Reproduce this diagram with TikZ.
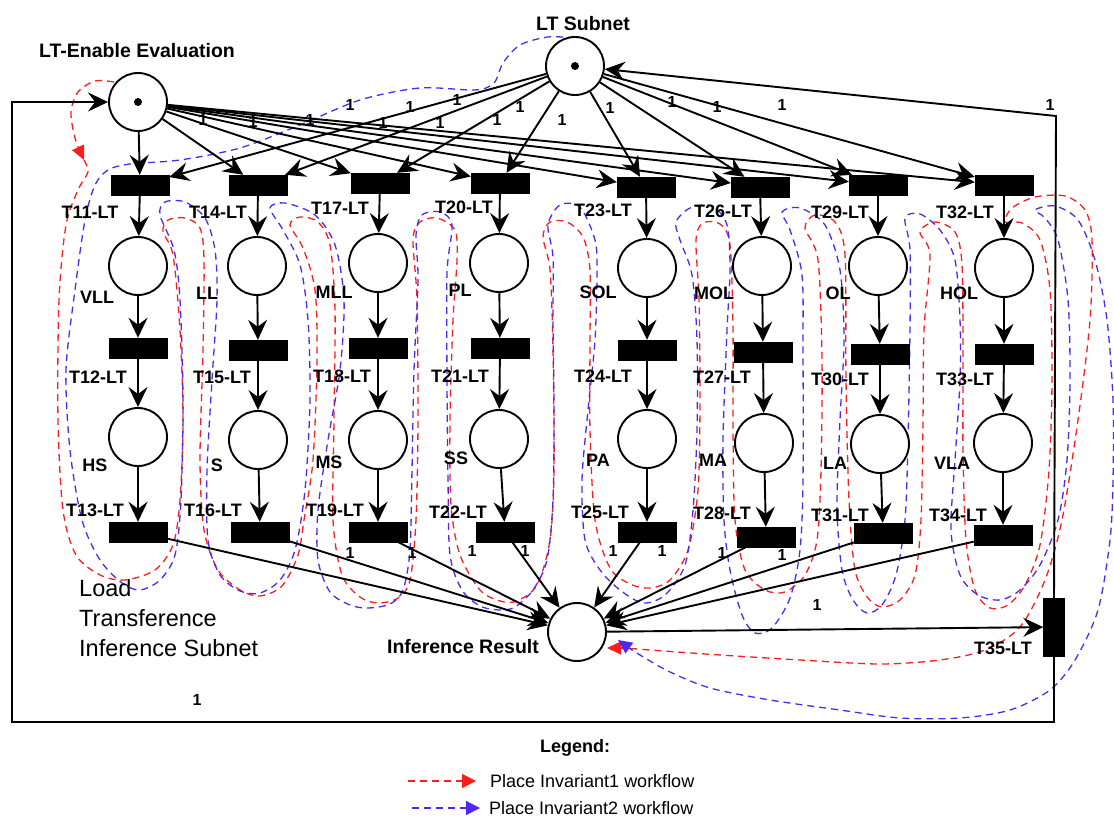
\documentclass[tikz,border=0pt]{standalone}
\usepackage{fontspec}
\setmainfont{Liberation Sans}
\usetikzlibrary{arrows.meta}
\definecolor{flowred}{RGB}{250,30,30}
\definecolor{flowblue}{RGB}{80,40,240}
\begin{document}
\begin{tikzpicture}[x=1pt,y=-1pt,
  place/.style={circle,draw,line width=1.9pt,fill=white,minimum size=58pt,inner sep=0pt},
  trans/.style={rectangle,fill=black,draw=black,minimum width=58pt,minimum height=20pt,inner sep=0pt},
  vtrans/.style={rectangle,fill=black,draw=black,minimum width=21pt,minimum height=58pt,inner sep=0pt},
  arc/.style={line width=1.9pt,-{Stealth[length=20pt,width=19pt,inset=7pt]}},
  lbl/.style={font=\fontsize{18}{20}\selectfont\bfseries,inner sep=0pt},
  ttl/.style={font=\fontsize{19.5}{22}\selectfont\bfseries,inner sep=0pt},
  wt/.style={font=\fontsize{16}{18}\selectfont\bfseries,inner sep=0pt},
  flow/.style={line width=1.3pt,dash pattern=on 7pt off 5pt},
  redflow/.style={flow,color=flowred},
  blueflow/.style={flow,color=flowblue},
  flowtip/.style={-{Triangle[length=14pt,width=13pt]}},
  token/.style={circle,fill=black,minimum size=8pt,inner sep=0pt}
]
\useasboundingbox (0,0) rectangle (1114,821);

% ---------- place invariant workflows ----------
\draw[redflow,flowtip] plot[smooth] coordinates {(114,82) (95,81) (78,92) (71,112) (75,138) (84,160)};
\draw[redflow] plot[smooth] coordinates {(84,160) (88,172) (78,190) (66,225) (59,300) (58,420) (63,510) (76,555) (100,575) (125,580) (155,570) (173,545) (180,500) (183,420) (180,330) (173,255) (163,232) (168,220) (185,218) (200,228) (204,260) (203,350) (200,460) (204,530) (218,570) (240,590) (260,596) (282,586) (298,555) (304,520) (313,460) (317,360) (315,290) (303,248) (290,225) (300,217) (318,222) (330,245) (335,310) (334,420) (333,520) (342,575) (360,597) (378,603) (398,598) (410,580) (416,520) (418,420) (417,300) (413,240) (420,222) (437,218) (455,230) (457,260) (453,320) (450,420) (451,505) (460,555) (480,590) (500,601) (517,601) (537,585) (550,540) (554,470) (553,350) (550,270) (543,237) (550,222) (567,222) (583,237) (590,270) (590,340) (590,430) (595,520) (610,568) (630,584) (650,588) (670,580) (688,550) (698,490) (700,400) (699,300) (696,240) (703,223) (720,224) (730,245) (733,330) (733,430) (735,520) (745,570) (765,590) (785,592) (805,575) (817,540) (821,470) (822,360) (818,260) (805,228) (815,215) (835,222) (845,255) (846,380) (849,500) (855,570) (868,598) (882,607) (900,600) (915,575) (921,520) (923,420) (924,330) (930,255) (920,232) (935,222) (955,232) (962,265) (963,360) (963,450) (966,540) (975,590) (990,608) (1008,605) (1025,585) (1040,545) (1049,470) (1052,380) (1050,290) (1040,240) (1022,223) (1005,222) (1012,208) (1035,197) (1065,196) (1085,210) (1092,240) (1090,320) (1078,420) (1062,520) (1045,580) (1020,627) (985,650) (940,660) (880,664) (800,660) (720,655) (650,650) (625,648)};
\draw[redflow,flowtip] (625,648) -- (607,648);

\draw[blueflow] plot[smooth] coordinates {(575,38) (548,37) (520,45) (503,63) (494,83) (475,90) (420,88) (360,100) (300,125) (240,148) (180,160) (130,164) (108,170) (95,185) (85,220) (75,290) (66,370) (70,450) (82,520) (100,560) (122,583) (140,590) (160,580) (175,555) (181,500) (183,400) (180,300) (174,250) (160,215) (165,202) (185,202) (205,218) (215,250) (217,300) (212,380) (207,470) (208,540) (220,575) (240,591) (260,593) (280,580) (295,550) (305,490) (310,400) (308,320) (300,265) (283,230) (270,208) (285,203) (315,215) (335,245) (344,300) (340,370) (328,440) (318,510) (318,560) (330,592) (350,605) (368,608) (390,604) (403,590) (410,550) (412,470) (414,370) (418,280) (416,235) (422,215) (440,212) (452,225) (447,273) (447,380) (448,480) (450,555) (462,590) (480,606) (500,610) (515,607) (533,590) (547,560) (553,500) (554,410) (553,320) (553,257) (548,225) (560,205) (580,207) (595,240) (597,273) (595,340) (588,410) (582,480) (585,540) (600,570) (620,590) (643,603) (665,595) (685,565) (693,510) (697,430) (697,340) (692,275) (680,240) (676,222) (690,208) (712,206) (727,225) (730,270) (727,330) (723,440) (724,520) (730,570) (742,615) (755,633) (772,628) (790,598) (800,550) (803,480) (803,350) (802,275) (790,230) (782,212) (800,208) (825,225) (840,270) (844,340) (840,420) (837,507) (842,570) (853,600) (867,613) (882,605) (896,575) (905,520) (908,440) (910,330) (910,250) (905,218) (920,214) (940,230) (955,260) (960,320) (960,380) (955,460) (951,530) (960,575) (978,595) (1000,600) (1020,590) (1040,565) (1058,520) (1067,460) (1070,380) (1068,300) (1058,240) (1045,218) (1035,210) (1055,206) (1078,220) (1095,260) (1107,320) (1113,400) (1113,480) (1110,540) (1098,610) (1075,660) (1050,690) (1010,710) (960,718) (900,718) (840,710) (770,700) (710,688) (670,672) (645,658) (632,650)};
\draw[blueflow,flowtip] (632,650) -- (618,640);

% ---------- places ----------
\node[place] (lte) at (138,102) {};
\node[place] (lts) at (575,66) {};
\node[token] (lteTok) at (lte.center) {};
\node[token] (ltsTok) at (lts.center) {};
\node[place] (ir) at (577,632) {};

\node[place] (vll) at (138,266) {};
\node[place] (ll)  at (257,266) {};
\node[place] (mll) at (378,263) {};
\node[place] (pl)  at (499,263) {};
\node[place] (sol) at (647,268) {};
\node[place] (mol) at (762,266) {};
\node[place] (ol)  at (878,266) {};
\node[place] (hol) at (1004,268) {};

\node[place] (hs)  at (138,437) {};
\node[place] (s)   at (258,440) {};
\node[place] (ms)  at (378,440) {};
\node[place] (ss)  at (499,439) {};
\node[place] (pa)  at (647,439) {};
\node[place] (ma)  at (764,443) {};
\node[place] (la)  at (880,444) {};
\node[place] (vla) at (1003,443) {};

% ---------- transitions ----------
\node[trans] (t11) at (140,185) {};
\node[trans] (t14) at (258,185) {};
\node[trans] (t17) at (380,183) {};
\node[trans] (t20) at (500,183) {};
\node[trans] (t23) at (646,187) {};
\node[trans] (t26) at (760,187) {};
\node[trans] (t29) at (878,185) {};
\node[trans] (t32) at (1004,185) {};

\node[trans] (t12) at (138,348) {};
\node[trans] (t15) at (258,350) {};
\node[trans] (t18) at (378,348) {};
\node[trans] (t21) at (500,348) {};
\node[trans] (t24) at (647,350) {};
\node[trans] (t27) at (763,352) {};
\node[trans] (t30) at (880,354) {};
\node[trans] (t33) at (1004,354) {};

\node[trans] (t13) at (138,532) {};
\node[trans] (t16) at (260,532) {};
\node[trans] (t19) at (378,532) {};
\node[trans] (t22) at (505,532) {};
\node[trans] (t25) at (647,532) {};
\node[trans] (t28) at (766,537) {};
\node[trans] (t31) at (883,533) {};
\node[trans] (t34) at (1003,535) {};

\node[vtrans] (t35) at (1054,627) {};

% ---------- arcs from the two upper places ----------
\foreach \t in {t11,t14,t17,t20,t23,t26,t29,t32} {
  \draw[arc] (lte) -- (\t);
  \draw[arc] (lts) -- (\t);
}

% ---------- column arcs ----------
\foreach \a/\b/\c/\d/\e in {t11/vll/t12/hs/t13, t14/ll/t15/s/t16, t17/mll/t18/ms/t19,
  t20/pl/t21/ss/t22, t23/sol/t24/pa/t25, t26/mol/t27/ma/t28, t29/ol/t30/la/t31, t32/hol/t33/vla/t34} {
  \draw[arc] (\a) -- (\b);
  \draw[arc] (\b) -- (\c);
  \draw[arc] (\c) -- (\d);
  \draw[arc] (\d) -- (\e);
  \draw[arc] (\e) -- (ir);
}

\draw[arc] (ir) -- (t35);

% ---------- feedback arcs from T35 ----------
\coordinate (cBR) at (1054,722);
\coordinate (cBL) at (12,722);
\coordinate (cTL) at (12,102);
\coordinate (cTR) at (1056,116);
\draw[arc] (t35.south) -- (cBR) -- (cBL) -- (cTL) -- (lte.west);
\draw[arc] (t35.north) -- (cTR) -- (lts);

% ---------- titles ----------
\node[ttl] (lteName) at (137,51) {LT-Enable Evaluation};
\node[ttl] (ltsName) at (583,24) {LT Subnet};
\node[ttl] (irName) at (463,647) {Inference Result};
\node[align=left,anchor=west,inner sep=0pt,font=\fontsize{23.5}{30}\selectfont] (subnetName) at (79,618) {Load\\Transference\\Inference Subnet};

% ---------- transition labels ----------
\node[lbl] (l11) at (90,212) {T11-LT};
\node[lbl] (l14) at (218,212) {T14-LT};
\node[lbl] (l17) at (340,208) {T17-LT};
\node[lbl] (l20) at (464,207) {T20-LT};
\node[lbl] (l23) at (603,210) {T23-LT};
\node[lbl] (l26) at (723,211) {T26-LT};
\node[lbl] (l29) at (840,212) {T29-LT};
\node[lbl] (l32) at (965,212) {T32-LT};

\node[lbl] (l12) at (98,377) {T12-LT};
\node[lbl] (l15) at (222,377) {T15-LT};
\node[lbl] (l18) at (342,376) {T18-LT};
\node[lbl] (l21) at (460,376) {T21-LT};
\node[lbl] (l24) at (603,376) {T24-LT};
\node[lbl] (l27) at (722,377) {T27-LT};
\node[lbl] (l30) at (840,379) {T30-LT};
\node[lbl] (l33) at (965,379) {T33-LT};

\node[lbl] (l13) at (95,510) {T13-LT};
\node[lbl] (l16) at (213,510) {T16-LT};
\node[lbl] (l19) at (335,510) {T19-LT};
\node[lbl] (l22) at (458,512) {T22-LT};
\node[lbl] (l25) at (600,512) {T25-LT};
\node[lbl] (l28) at (722,513) {T28-LT};
\node[lbl] (l31) at (840,515) {T31-LT};
\node[lbl] (l34) at (958,515) {T34-LT};
\node[lbl] (l35) at (1003,648) {T35-LT};

% ---------- place labels ----------
\node[lbl] (nVLL) at (97,297) {VLL};
\node[lbl] (nLL)  at (207,293) {LL};
\node[lbl] (nMLL) at (334,292) {MLL};
\node[lbl] (nPL)  at (460,290) {PL};
\node[lbl] (nSOL) at (598,292) {SOL};
\node[lbl] (nMOL) at (714,293) {MOL};
\node[lbl] (nOL)  at (838,293) {OL};
\node[lbl] (nHOL) at (959,293) {HOL};

\node[lbl] (nHS)  at (95,465) {HS};
\node[lbl] (nS)   at (217,465) {S};
\node[lbl] (nMS)  at (329,462) {MS};
\node[lbl] (nSS)  at (456,458) {SS};
\node[lbl] (nPA)  at (598,460) {PA};
\node[lbl] (nMA)  at (713,460) {MA};
\node[lbl] (nLA)  at (835,463) {LA};
\node[lbl] (nVLA) at (952,463) {VLA};

% ---------- arc weights ----------
\foreach \x/\y [count=\i] in {350/105, 410/107, 457/100, 520/107, 203/120, 253/122, 310/120, 383/123,
  440/123, 497/120, 562/120, 610/108, 672/102, 717/107, 782/105, 1050/105,
  350/553, 412/553, 472/551, 525/551, 613/551, 662/551, 722/553, 782/555, 817/605, 197/700} {
  \node[wt] (w\i) at (\x,\y) {1};
}

% ---------- legend ----------
\node[lbl] (legTitle) at (575,748) {Legend:};
\coordinate (lgR1) at (408,781);
\coordinate (lgR2) at (476,781);
\coordinate (lgB1) at (412,808);
\coordinate (lgB2) at (480,808);
\draw[redflow,-{Triangle[length=14pt,width=14pt]}] (lgR1) -- (lgR2);
\draw[blueflow,-{Triangle[length=14pt,width=14pt]}] (lgB1) -- (lgB2);
\node[anchor=west,inner sep=0pt,font=\fontsize{18}{20}\selectfont] (legRed) at (490,781) {Place Invariant1 workflow};
\node[anchor=west,inner sep=0pt,font=\fontsize{18}{20}\selectfont] (legBlue) at (489,808) {Place Invariant2 workflow};
\end{tikzpicture}
\end{document}
